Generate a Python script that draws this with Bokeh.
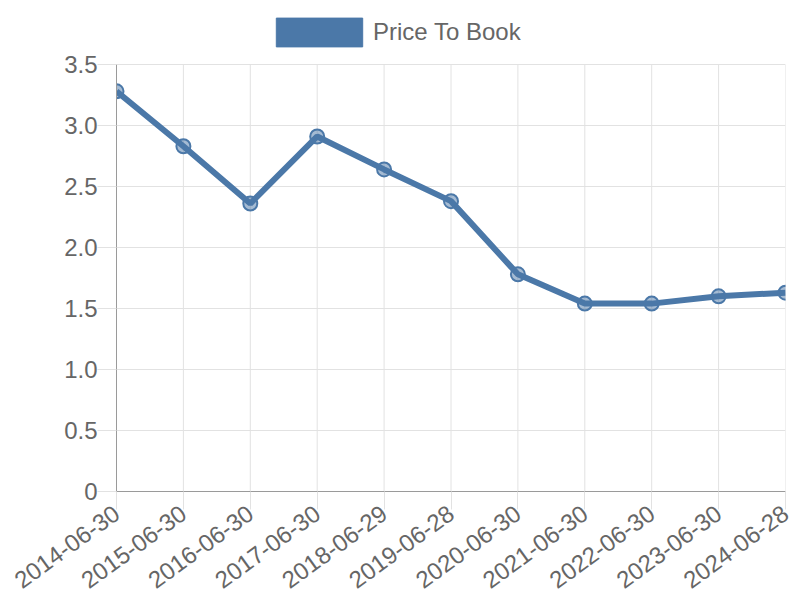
import math
import numpy as np
from bokeh.plotting import figure
from bokeh.models import (Range1d, FixedTicker, NumeralTickFormatter, Legend, LegendItem,
                          ColumnDataSource)
from bokeh.embed import file_html
from bokeh.resources import INLINE

dates = ["2014-06-30", "2015-06-30", "2016-06-30", "2017-06-30", "2018-06-29",
         "2019-06-28", "2020-06-30", "2021-06-30", "2022-06-30", "2023-06-30",
         "2024-06-28"]
price_to_book = [3.28, 2.83, 2.36, 2.91, 2.64, 2.38, 1.78, 1.54, 1.54, 1.60, 1.63]
y_ticks = [0, 0.5, 1.0, 1.5, 2.0, 2.5, 3.0, 3.5]
series_name = "Price To Book"

COLOR = "#4b78a8"
FONT = "Liberation Sans"
TEXT = "#666666"
GRID = "#e2e2e2"
AXIS = "#9a9a9a"

Y_MAX = y_ticks[-1]
FRAME_H = 491          # frame from top of canvas to x-axis
PLOT_H = 427           # height that the 0..Y_MAX span occupies
y_top = Y_MAX * FRAME_H / PLOT_H

xs = list(range(len(dates)))
src = ColumnDataSource(dict(x=xs, y=price_to_book))

p = figure(frame_width=669, frame_height=FRAME_H, output_backend="svg", toolbar_location=None,
           x_range=Range1d(0, len(dates) - 1), y_range=Range1d(0, y_top),
           min_border_left=116, min_border_top=0, min_border_right=7, min_border_bottom=0)
p.outline_line_color = None
p.background_fill_color = "white"

# vertical grid lines limited to the value span
p.segment(x0=xs, y0=[0] * len(xs), x1=xs, y1=[Y_MAX] * len(xs), line_color=GRID, line_width=1)

p.line("x", "y", source=src, line_color=COLOR, line_width=6)
p.scatter("x", "y", source=src, size=14, marker="circle", fill_color=COLOR, fill_alpha=0.5,
          line_color=COLOR, line_width=2)

# legend swatch (a quad that draws nothing in the plot, only its legend box)
nan = np.array([np.nan])
dummy = p.quad(left=nan, right=nan, top=nan, bottom=nan, fill_color=COLOR, line_color=COLOR)
legend = Legend(items=[LegendItem(label=series_name, renderers=[dummy], index=0)],
                location=(149, 441), orientation="horizontal",
                glyph_width=108, glyph_height=36, label_standoff=-4,
                label_text_font=FONT, label_text_font_size="24px", label_text_color=TEXT,
                padding=0, margin=0, border_line_alpha=0, background_fill_alpha=0,
                label_height=36)
p.add_layout(legend, "center")

# x axis
xa = p.xaxis[0]
xa.ticker = FixedTicker(ticks=xs)
xa.major_label_overrides = {i: d for i, d in enumerate(dates)}
xa.major_label_orientation = math.radians(36)
xa.major_label_text_font = FONT
xa.major_label_text_font_size = "24px"
xa.major_label_text_color = TEXT
xa.axis_line_color = AXIS
xa.major_tick_line_color = GRID
xa.major_tick_out = 18
xa.major_tick_in = 0
xa.minor_tick_line_color = None
xa.major_label_standoff = 1

ya = p.yaxis[0]
ya.ticker = FixedTicker(ticks=y_ticks)
ya.bounds = (0, Y_MAX)
ya.formatter = NumeralTickFormatter(format="0.0")
ya.major_label_overrides = {0: "0"}
ya.major_label_text_font = FONT
ya.major_label_text_font_size = "24px"
ya.major_label_text_color = TEXT
ya.axis_line_color = AXIS
ya.major_tick_line_color = GRID
ya.major_tick_out = 19
ya.major_tick_in = 0
ya.minor_tick_line_color = None
ya.major_label_standoff = 0

p.xgrid.grid_line_color = None
p.ygrid.grid_line_color = GRID
p.ygrid.grid_line_width = 1

open("out.html", "w").write(file_html(p, INLINE))
